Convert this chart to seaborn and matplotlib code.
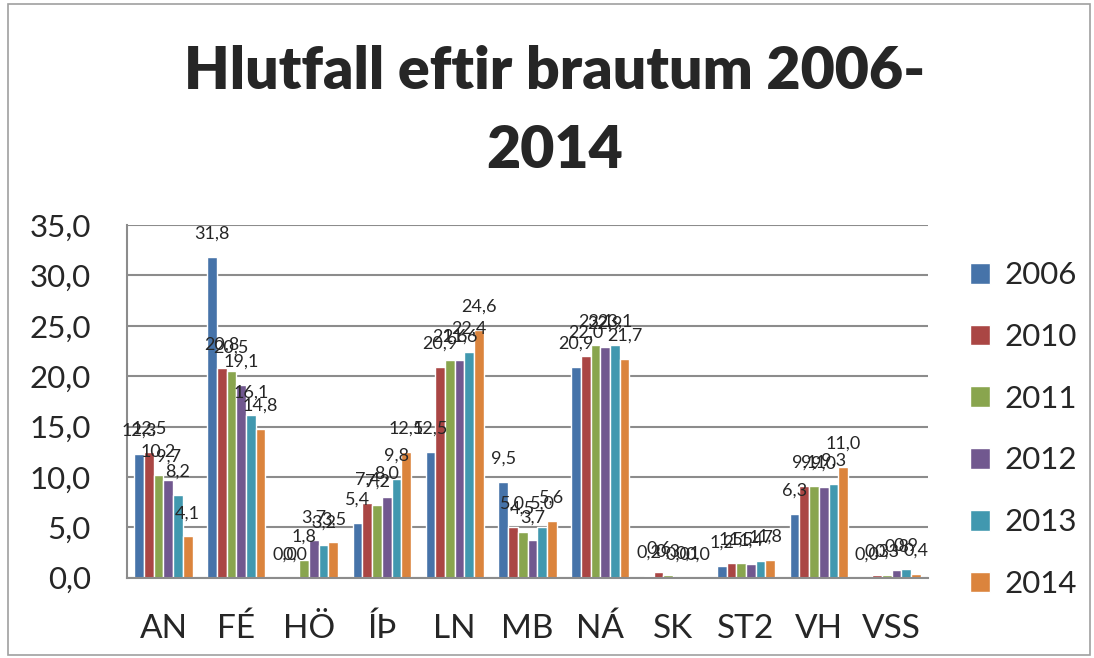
import numpy as np
import pandas as pd
import matplotlib
matplotlib.use("Agg")
import matplotlib.pyplot as plt
import seaborn as sns
from matplotlib.ticker import FuncFormatter, MultipleLocator
from matplotlib.patches import Rectangle

# brautir og ár
brautir = ["AN", "FÉ", "HÖ", "ÍÞ", "LN", "MB", "NÁ", "SK", "ST2", "VH", "VSS"]
ar = ["2006", "2010", "2011", "2012", "2013", "2014"]

# hlutfall (%) eftir braut, eitt ár í hverjum lista
v2006 = [12.3, 31.8, 0.0, 5.4, 12.5, 9.5, 20.9, 0.2, 1.2, 6.3, 0.0]
v2010 = [12.5, 20.8, 0.0, 7.4, 20.9, 5.0, 22.0, 0.6, 1.5, 9.1, 0.3]
v2011 = [10.2, 20.5, 1.8, 7.2, 21.6, 4.5, 23.1, 0.3, 1.5, 9.1, 0.3]
v2012 = [9.7, 19.1, 3.7, 8.0, 21.6, 3.7, 22.9, 0.0, 1.4, 9.0, 0.8]
v2013 = [8.2, 16.1, 3.2, 9.8, 22.4, 5.0, 23.1, 0.1, 1.7, 9.3, 0.9]
v2014 = [4.1, 14.8, 3.5, 12.5, 24.6, 5.6, 21.7, 0.0, 1.8, 11.0, 0.4]
series = [v2006, v2010, v2011, v2012, v2013, v2014]

litir = ["#4673A9", "#AA4644", "#89A54E", "#71588F", "#4198AF", "#DB843D"]

df = pd.DataFrame({
    "braut": brautir * len(ar),
    "ar": np.repeat(ar, len(brautir)),
    "hlutfall": sum(series, []),
})

sns.set_style("white")
plt.rcParams["font.family"] = ["Lato", "DejaVu Sans"]

fig = plt.figure(figsize=(10.94, 6.58), dpi=100)
ax = fig.add_axes([0.1161, 0.122, 0.7322, 0.536])

sns.barplot(data=df, x="braut", y="hlutfall", hue="ar", palette=litir,
            width=0.8, gap=0, saturation=1, errorbar=None, ax=ax)

# gildi ofan á súlum
for cont, vals in zip(ax.containers, series):
    ax.bar_label(cont, labels=[f"{v:.1f}".replace(".", ",") for v in vals],
                 padding=11, fontsize=13)

ax.set_ylim(0, 35)
ax.set_xlim(-0.5, len(brautir) - 0.5)
ax.yaxis.set_major_locator(MultipleLocator(5))
ax.yaxis.set_major_formatter(FuncFormatter(lambda y, p: f"{y:.1f}".replace(".", ",")))
ax.grid(axis="y", color="#8C8C8C", linewidth=1.5)
ax.set_axisbelow(True)
ax.set_xlabel("")
ax.set_ylabel("")
ax.tick_params(axis="y", labelsize=22.5, length=0, pad=26)
ax.tick_params(axis="x", labelsize=24, length=0, pad=26)
for s in ["top", "right"]:
    ax.spines[s].set_visible(False)
for s in ["left", "bottom"]:
    ax.spines[s].set_color("#8C8C8C")
    ax.spines[s].set_linewidth(1.5)

handles, labels = ax.get_legend_handles_labels()
ax.legend_.remove()
fig.legend(handles, labels, loc="upper left", bbox_to_anchor=(0.8867, 0.603),
           frameon=False, fontsize=22.5, handlelength=0.65, handleheight=0.65,
           handletextpad=0.45, labelspacing=1.08, borderpad=0, borderaxespad=0)

fig.text(0.507, 1 - 89 / 658, "Hlutfall eftir brautum 2006-", ha="center",
         va="baseline", fontsize=42.5, fontweight="heavy")
fig.text(0.507, 1 - 168 / 658, "2014", ha="center", va="baseline",
         fontsize=42.5, fontweight="heavy")

fig.patches.append(Rectangle((0.007, 0.004), 0.989, 0.99, transform=fig.transFigure,
                             fill=False, edgecolor="#A0A0A0", linewidth=1.2))

fig.savefig("out.png", dpi=100)
